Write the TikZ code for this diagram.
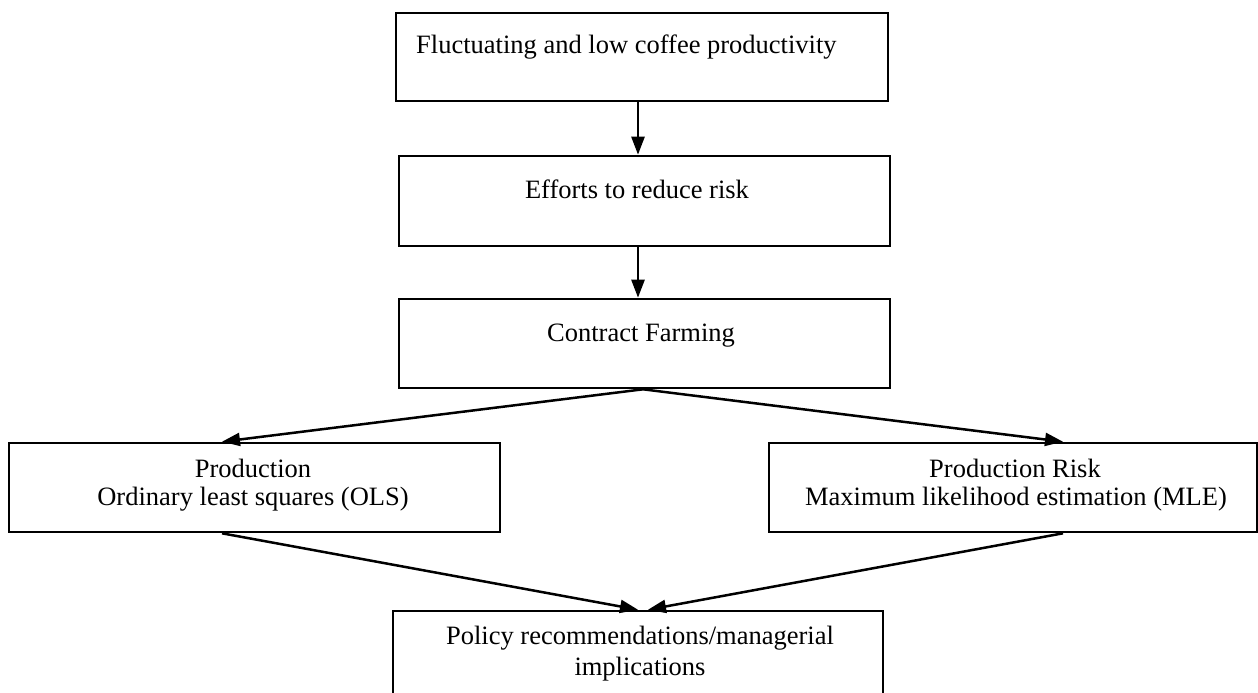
\documentclass[tikz,border=0pt]{standalone}
\usepackage{fontspec}
\setmainfont{Liberation Serif}
\usetikzlibrary{arrows.meta}
\begin{document}
\begin{tikzpicture}[x=1pt,y=-1pt,
  box/.style={draw=black,line width=2.6pt,rectangle,inner sep=0pt},
  lbl/.style={font=\fontsize{26.5}{30}\selectfont,inner sep=0pt,anchor=base},
  arr/.style={draw=black,line width=2.5pt,-{Triangle[length=18pt,width=13pt]}}]
\useasboundingbox (0,0) rectangle (1258,693);
% boxes
\node[box,minimum width=492pt,minimum height=88pt] (b1) at (642,57) {};
\node[box,minimum width=491pt,minimum height=90pt] (b2) at (644.5,201) {};
\node[box,minimum width=491pt,minimum height=89pt] (b3) at (644.5,343.5) {};
\node[box,minimum width=491pt,minimum height=89pt] (b4) at (254.5,487.5) {};
\node[box,minimum width=488pt,minimum height=89pt] (b5) at (1013,487.5) {};
\node[box,minimum width=490pt,minimum height=98pt] (b6) at (638,660) {};
% texts
\node[lbl,anchor=base west] (t1) at (416,53) {Fluctuating and low coffee productivity};
\node[lbl] (t2) at (637,198) {Efforts to reduce risk};
\node[lbl] (t3) at (641,341) {Contract Farming};
\node[lbl] (t4a) at (253,477) {Production};
\node[lbl] (t4b) at (253,505) {Ordinary least squares (OLS)};
\node[lbl] (t5a) at (1015,477) {Production Risk};
\node[lbl] (t5b) at (1016,505) {Maximum likelihood estimation (MLE)};
\node[lbl] (t6a) at (640,644) {Policy recommendations/managerial};
\node[lbl] (t6b) at (640,675) {implications};
% connectors
\draw[arr] ([xshift=-4pt]b1.south) -- ([xshift=-4pt]b1.south |- b2.north);
\draw[arr] ([xshift=-6.5pt]b2.south) -- ([xshift=-6.5pt]b3.north);
\draw[arr] ([xshift=-1.5pt]b3.south) -- ([xshift=-32.5pt]b4.north);
\draw[arr] ([xshift=-1.5pt]b3.south) -- ([xshift=50pt]b5.north);
\draw[arr] ([xshift=-32.5pt]b4.south) -- (b6.north);
\draw[arr] ([xshift=50pt]b5.south) -- ([xshift=10pt]b6.north);
\end{tikzpicture}
\end{document}
